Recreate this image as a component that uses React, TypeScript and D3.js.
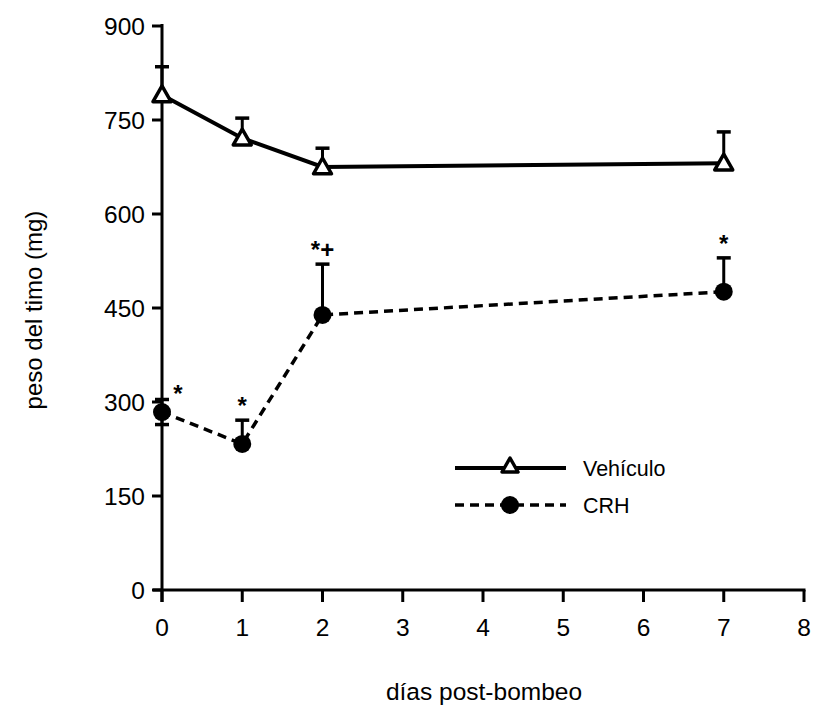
import React from "react";
import * as d3 from "d3";

// Days after pumping and thymus weight (mg), mean with SEM
const days = [0, 1, 2, 7];
const vehiculoMean = [790, 721, 675, 681];
const vehiculoErr = [45, 32, 30, 50];
const crhMean = [284, 233, 439, 476];
const crhErr = [20, 38, 81, 54];
const crhMarks = ["*", "*", "*+", "*"];
const crhLowerBar = [true, false, false, false];

const xTicks = [0, 1, 2, 3, 4, 5, 6, 7, 8];
const yTicks = [0, 150, 300, 450, 600, 750, 900];

const W = 817;
const H = 706;
const FONT = "'Liberation Sans', Arial, Helvetica, sans-serif";

export default function App() {
  const x = d3.scaleLinear().domain([0, 8]).range([162, 804]);
  const y = d3.scaleLinear().domain([0, 900]).range([590, 26]);

  const line = d3
    .line<number>()
    .x((_, i) => x(days[i]))
    .y((d) => y(d));

  const tri = (cx: number, cy: number, s = 9) =>
    `M${cx},${cy - s} L${cx + s},${cy + s * 0.75} L${cx - s},${cy + s * 0.75} Z`;

  const cap = 7;

  return (
    <svg
      width={W}
      height={H}
      style={{ position: "absolute", left: 0, top: 0, background: "#fff" }}
      fontFamily={FONT}
    >
      {/* axes */}
      <line x1={x(0)} x2={x(0)} y1={y(900) - 2} y2={y(0) + 12} stroke="#000" strokeWidth={3} />
      <line x1={x(0) - 9} x2={x(8) + 1.5} y1={y(0)} y2={y(0)} stroke="#000" strokeWidth={3} />
      {yTicks.map((t) => (
        <g key={"y" + t}>
          <line x1={x(0) - 10} x2={x(0)} y1={y(t)} y2={y(t)} stroke="#000" strokeWidth={3} />
          <text x={x(0) - 17} y={y(t)} dy="0.36em" textAnchor="end" fontSize={24.5}>
            {t}
          </text>
        </g>
      ))}
      {xTicks.map((t) => (
        <g key={"x" + t}>
          <line x1={x(t)} x2={x(t)} y1={y(0)} y2={y(0) + 12} stroke="#000" strokeWidth={3} />
          <text x={x(t)} y={636} textAnchor="middle" fontSize={24.5}>
            {t}
          </text>
        </g>
      ))}
      <text
        transform={`translate(42,${(y(0) + y(900)) / 2 + 2}) rotate(-90)`}
        textAnchor="middle"
        fontSize={24}
      >
        peso del timo (mg)
      </text>
      <text x={484} y={700} textAnchor="middle" fontSize={24.5}>
        días post-bombeo
      </text>

      {/* Vehículo series */}
      {days.map((d, i) => (
        <g key={"ve" + i}>
          <line
            x1={x(d)}
            x2={x(d)}
            y1={y(vehiculoMean[i])}
            y2={y(vehiculoMean[i] + vehiculoErr[i])}
            stroke="#000"
            strokeWidth={3}
          />
          <line
            x1={x(d) - cap}
            x2={x(d) + cap}
            y1={y(vehiculoMean[i] + vehiculoErr[i])}
            y2={y(vehiculoMean[i] + vehiculoErr[i])}
            stroke="#000"
            strokeWidth={3.5}
          />
        </g>
      ))}
      <path d={line(vehiculoMean) ?? ""} fill="none" stroke="#000" strokeWidth={4} />
      {days.map((d, i) => (
        <path
          key={"vt" + i}
          d={tri(x(d), y(vehiculoMean[i]))}
          fill="#fff"
          stroke="#000"
          strokeWidth={3.5}
          strokeLinejoin="round"
        />
      ))}

      {/* CRH series */}
      {days.map((d, i) => (
        <g key={"ce" + i}>
          <line
            x1={x(d)}
            x2={x(d)}
            y1={y(crhLowerBar[i] ? crhMean[i] - crhErr[i] : crhMean[i])}
            y2={y(crhMean[i] + crhErr[i])}
            stroke="#000"
            strokeWidth={3}
          />
          <line
            x1={x(d) - cap}
            x2={x(d) + cap}
            y1={y(crhMean[i] + crhErr[i])}
            y2={y(crhMean[i] + crhErr[i])}
            stroke="#000"
            strokeWidth={3.5}
          />
          {crhLowerBar[i] && (
            <line
              x1={x(d) - cap}
              x2={x(d) + cap}
              y1={y(crhMean[i] - crhErr[i])}
              y2={y(crhMean[i] - crhErr[i])}
              stroke="#000"
              strokeWidth={3.5}
            />
          )}
        </g>
      ))}
      <path
        d={line(crhMean) ?? ""}
        fill="none"
        stroke="#000"
        strokeWidth={3.5}
        strokeDasharray="9,6"
      />
      {days.map((d, i) => (
        <circle key={"cc" + i} cx={x(d)} cy={y(crhMean[i])} r={9} fill="#000" />
      ))}
      {days.map((d, i) => {
        const top = y(crhMean[i] + crhErr[i]);
        const lx = i === 0 ? x(d) + 16 : x(d);
        const ly = i === 0 ? y(crhMean[i]) - 10 : top - 6;
        return (
          <text key={"cm" + i} x={lx} y={ly} textAnchor="middle" fontSize={24} fontWeight="bold">
            {crhMarks[i]}
          </text>
        );
      })}

      {/* legend */}
      <line x1={455} x2={566} y1={468} y2={468} stroke="#000" strokeWidth={4} />
      <path d={tri(510, 466, 8)} fill="#fff" stroke="#000" strokeWidth={3.5} strokeLinejoin="round" />
      <text x={583} y={468} dy="0.36em" fontSize={21.5}>
        Vehículo
      </text>
      <line x1={455} x2={566} y1={505} y2={505} stroke="#000" strokeWidth={3.5} strokeDasharray="9,6" />
      <circle cx={510} cy={505} r={9} fill="#000" />
      <text x={583} y={505} dy="0.36em" fontSize={21.5}>
        CRH
      </text>
    </svg>
  );
}
